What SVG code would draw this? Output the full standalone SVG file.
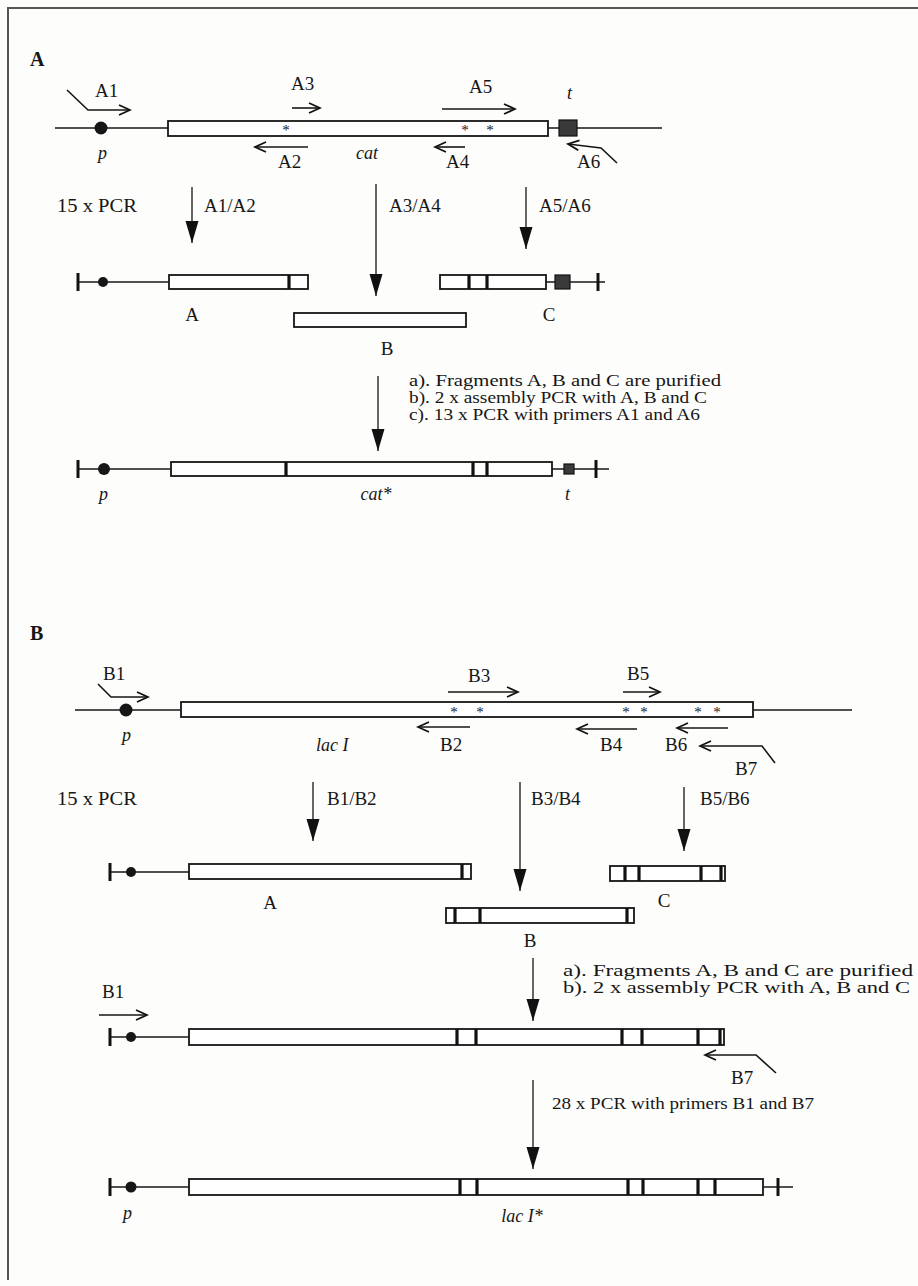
<svg xmlns="http://www.w3.org/2000/svg" width="918" height="1286" viewBox="0 0 918 1286">
<defs>
<marker id="open" markerUnits="userSpaceOnUse" markerWidth="14" markerHeight="12" refX="12" refY="6" orient="auto"><path d="M1,1 L12,6 L1,11" fill="none" stroke="#111" stroke-width="1.8"/></marker>
<marker id="solid" markerUnits="userSpaceOnUse" markerWidth="24" markerHeight="14" refX="22" refY="7" orient="auto"><path d="M0,0.5 L22,7 L0,13.5 z" fill="#111"/></marker>
</defs>
<style>
text{font-family:"Liberation Serif","Times New Roman",serif;fill:#161616;font-size:19px}
.h{font-weight:bold;font-size:20px}
.i{font-style:italic;font-size:18px}
.ast{font-size:15px}
.note{font-size:16px}
.ln{stroke:#161616;stroke-width:1.6;fill:none}
.box{fill:#fff;stroke:#161616;stroke-width:1.8}
.bar{stroke:#111;stroke-width:3.2}
.tick{stroke:#111;stroke-width:3}
.dot{fill:#161616}
.tbox{fill:#3a3a3a;stroke:#111;stroke-width:1.2}
.pr{stroke:#161616;stroke-width:1.6;fill:none;marker-end:url(#open)}
.st{stroke:#161616;stroke-width:1.3;fill:none;marker-end:url(#solid)}
.frame{stroke:#555;stroke-width:2;fill:none}
</style>
<rect x="0" y="0" width="918" height="1286" fill="#fdfdfb"/>
<path class="frame" d="M8,1280 L8,8 L918,8"/>

<!-- ===== Section A ===== -->
<text class="h" x="30" y="66">A</text>

<g id="A-template">
<line class="ln" x1="55" y1="128" x2="662" y2="128"/>
<circle class="dot" cx="101" cy="128" r="6.5"/>
<rect class="box" x="168" y="121" width="380" height="15"/>
<rect class="tbox" x="559" y="120" width="18" height="16"/>
<text class="ast" x="286" y="135" text-anchor="middle">*</text>
<text class="ast" x="465" y="135" text-anchor="middle">*</text>
<text class="ast" x="490" y="135" text-anchor="middle">*</text>
<text class="i" x="98" y="159">p</text>
<text class="i" x="356" y="159">cat</text>
<text class="i" x="567" y="99">t</text>
</g>

<g id="A-primers">
<polyline class="pr" points="67,90 88,110 130,110"/>
<text x="95" y="97">A1</text>
<line class="pr" x1="292" y1="108" x2="320" y2="108"/>
<text x="291" y="90">A3</text>
<line class="pr" x1="308" y1="147" x2="255" y2="147"/>
<text x="278" y="168">A2</text>
<line class="pr" x1="442" y1="109" x2="515" y2="109"/>
<text x="469" y="93">A5</text>
<line class="pr" x1="465" y1="147" x2="435" y2="147"/>
<text x="446" y="168">A4</text>
<polyline class="pr" points="617,163 601,148 568,144"/>
<text x="577" y="168">A6</text>
</g>

<text x="57" y="212" textLength="80" lengthAdjust="spacingAndGlyphs">15 x PCR</text>

<g id="A-fragA">
<line class="ln" x1="78" y1="282" x2="169" y2="282"/>
<line class="tick" x1="78" y1="273" x2="78" y2="291"/>
<circle class="dot" cx="103" cy="282" r="5"/>
<rect class="box" x="169" y="275" width="139" height="14"/>
<line class="bar" x1="289" y1="275" x2="289" y2="289"/>
<text x="192" y="321" text-anchor="middle">A</text>
</g>
<g id="A-fragB">
<rect class="box" x="294" y="313" width="172" height="14"/>
<text x="387" y="355" text-anchor="middle">B</text>
</g>
<g id="A-fragC">
<line class="ln" x1="546" y1="282" x2="605" y2="282"/>
<rect class="box" x="440" y="275" width="106" height="14"/>
<line class="bar" x1="469" y1="275" x2="469" y2="289"/>
<line class="bar" x1="487" y1="275" x2="487" y2="289"/>
<rect class="tbox" x="555" y="275" width="15" height="14"/>
<line class="tick" x1="598" y1="273" x2="598" y2="291"/>
<text x="549" y="321" text-anchor="middle">C</text>
</g>

<g id="A-steps">
<text class="note" x="409" y="386" textLength="312" lengthAdjust="spacingAndGlyphs">a). Fragments A, B and C are purified</text>
<text class="note" x="409" y="403" textLength="298" lengthAdjust="spacingAndGlyphs">b). 2 x assembly PCR with A, B and C</text>
<text class="note" x="409" y="420" textLength="291" lengthAdjust="spacingAndGlyphs">c). 13 x PCR with primers A1 and A6</text>
</g>

<g id="A-product">
<line class="ln" x1="78" y1="469" x2="609" y2="469"/>
<line class="tick" x1="78" y1="460" x2="78" y2="478"/>
<circle class="dot" cx="104" cy="469" r="6"/>
<rect class="box" x="171" y="462" width="381" height="14"/>
<line class="bar" x1="286" y1="462" x2="286" y2="476"/>
<line class="bar" x1="473" y1="462" x2="473" y2="476"/>
<line class="bar" x1="487" y1="462" x2="487" y2="476"/>
<rect class="tbox" x="564" y="464" width="10" height="10"/>
<line class="tick" x1="596" y1="460" x2="596" y2="478"/>
<text class="i" x="99" y="500">p</text>
<text class="i" x="376" y="500" text-anchor="middle">cat*</text>
<text class="i" x="565" y="500">t</text>
</g>

<!-- ===== Section B ===== -->
<text class="h" x="30" y="640">B</text>

<g id="B-template">
<line class="ln" x1="75" y1="710" x2="852" y2="710"/>
<circle class="dot" cx="126" cy="710" r="6.5"/>
<rect class="box" x="181" y="702" width="572" height="15"/>
<text class="ast" x="454" y="717" text-anchor="middle">*</text>
<text class="ast" x="480" y="717" text-anchor="middle">*</text>
<text class="ast" x="626" y="717" text-anchor="middle">*</text>
<text class="ast" x="644" y="717" text-anchor="middle">*</text>
<text class="ast" x="698" y="717" text-anchor="middle">*</text>
<text class="ast" x="717" y="717" text-anchor="middle">*</text>
<text class="i" x="122" y="741">p</text>
<text class="i" x="316" y="751">lac I</text>
</g>

<g id="B-primers">
<polyline class="pr" points="98,684 111,697 148,697"/>
<text x="103" y="680">B1</text>
<line class="pr" x1="448" y1="692" x2="518" y2="692"/>
<text x="468" y="682">B3</text>
<line class="pr" x1="623" y1="692" x2="660" y2="692"/>
<text x="627" y="680">B5</text>
<line class="pr" x1="470" y1="727" x2="418" y2="727"/>
<text x="440" y="751">B2</text>
<line class="pr" x1="637" y1="729" x2="577" y2="729"/>
<text x="600" y="751">B4</text>
<line class="pr" x1="728" y1="728" x2="677" y2="728"/>
<text x="665" y="751">B6</text>
<polyline class="pr" points="775,763 762,746 700,746"/>
<text x="735" y="775">B7</text>
</g>

<text x="57" y="805" textLength="80" lengthAdjust="spacingAndGlyphs">15 x PCR</text>

<g id="B-fragA">
<line class="ln" x1="110" y1="872" x2="189" y2="872"/>
<line class="tick" x1="110" y1="863" x2="110" y2="881"/>
<circle class="dot" cx="131" cy="872" r="5"/>
<rect class="box" x="189" y="864" width="282" height="15"/>
<line class="bar" x1="462" y1="864" x2="462" y2="879"/>
<text x="270" y="909" text-anchor="middle">A</text>
</g>
<g id="B-fragB">
<rect class="box" x="446" y="908" width="188" height="15"/>
<line class="bar" x1="455" y1="908" x2="455" y2="923"/>
<line class="bar" x1="480" y1="908" x2="480" y2="923"/>
<line class="bar" x1="627" y1="908" x2="627" y2="923"/>
<text x="530" y="947" text-anchor="middle">B</text>
</g>
<g id="B-fragC">
<rect class="box" x="610" y="866" width="115" height="15"/>
<line class="bar" x1="625" y1="866" x2="625" y2="881"/>
<line class="bar" x1="639" y1="866" x2="639" y2="881"/>
<line class="bar" x1="701" y1="866" x2="701" y2="881"/>
<line class="bar" x1="721" y1="866" x2="721" y2="881"/>
<text x="664" y="907" text-anchor="middle">C</text>
</g>

<g id="B-steps">
<text class="note" x="563" y="976" textLength="350" lengthAdjust="spacingAndGlyphs">a). Fragments A, B and C are purified</text>
<text class="note" x="563" y="993" textLength="347" lengthAdjust="spacingAndGlyphs">b). 2 x assembly PCR with A, B and C</text>
<text class="note" x="552" y="1109" textLength="262" lengthAdjust="spacingAndGlyphs">28 x PCR with primers B1 and B7</text>
</g>

<g id="B-assembled">
<line class="ln" x1="110" y1="1037" x2="189" y2="1037"/>
<line class="tick" x1="110" y1="1028" x2="110" y2="1046"/>
<circle class="dot" cx="131" cy="1037" r="5"/>
<rect class="box" x="189" y="1029" width="535" height="16"/>
<line class="bar" x1="457" y1="1029" x2="457" y2="1045"/>
<line class="bar" x1="476" y1="1029" x2="476" y2="1045"/>
<line class="bar" x1="622" y1="1029" x2="622" y2="1045"/>
<line class="bar" x1="642" y1="1029" x2="642" y2="1045"/>
<line class="bar" x1="698" y1="1029" x2="698" y2="1045"/>
<line class="bar" x1="720" y1="1029" x2="720" y2="1045"/>
<line class="pr" x1="99" y1="1015" x2="147" y2="1015"/>
<text x="102" y="998">B1</text>
<polyline class="pr" points="776,1073 756,1055 705,1055"/>
<text x="731" y="1084">B7</text>
</g>

<g id="B-product">
<line class="ln" x1="110" y1="1187" x2="793" y2="1187"/>
<line class="tick" x1="110" y1="1178" x2="110" y2="1196"/>
<circle class="dot" cx="131" cy="1187" r="5.5"/>
<rect class="box" x="189" y="1179" width="574" height="16"/>
<line class="bar" x1="460" y1="1179" x2="460" y2="1195"/>
<line class="bar" x1="477" y1="1179" x2="477" y2="1195"/>
<line class="bar" x1="628" y1="1179" x2="628" y2="1195"/>
<line class="bar" x1="643" y1="1179" x2="643" y2="1195"/>
<line class="bar" x1="698" y1="1179" x2="698" y2="1195"/>
<line class="bar" x1="715" y1="1179" x2="715" y2="1195"/>
<line class="tick" x1="778" y1="1178" x2="778" y2="1196"/>
<text class="i" x="123" y="1219">p</text>
<text class="i" x="522" y="1222" text-anchor="middle">lac I*</text>
</g>

<g id="connectors">
<line class="st" x1="192" y1="187" x2="192" y2="243"/>
<line class="st" x1="376" y1="184" x2="376" y2="296"/>
<line class="st" x1="526" y1="187" x2="526" y2="249"/>
<line class="st" x1="378" y1="376" x2="378" y2="451"/>
<line class="st" x1="313" y1="782" x2="313" y2="841"/>
<line class="st" x1="520" y1="782" x2="520" y2="891"/>
<line class="st" x1="684" y1="787" x2="684" y2="851"/>
<line class="st" x1="533" y1="958" x2="533" y2="1021"/>
<line class="st" x1="533" y1="1080" x2="533" y2="1169"/>
<text x="204" y="212">A1/A2</text>
<text x="389" y="212">A3/A4</text>
<text x="539" y="212">A5/A6</text>
<text x="327" y="805">B1/B2</text>
<text x="531" y="805">B3/B4</text>
<text x="700" y="805">B5/B6</text>
</g>
</svg>
